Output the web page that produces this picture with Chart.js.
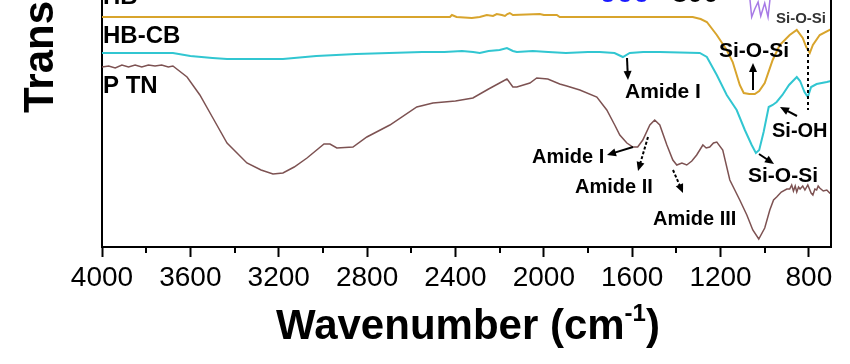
<!DOCTYPE html>
<html>
<head>
<meta charset="utf-8">
<script src="https://cdn.jsdelivr.net/npm/chart.js@4.4.1/dist/chart.umd.min.js"></script>
<style>
  html, body { margin: 0; padding: 0; background: #fff; }
  canvas { display: block; }
</style>
</head>
<body>
<canvas id="ftir-chart" width="850" height="364"></canvas>
<script>
// FTIR spectra (transmittance in arbitrary units, curves offset)
const hbWn = [4000, 3600, 3200, 2800, 2425, 2416, 2395, 2326, 2290, 2258, 2230, 2213, 2190, 2176, 2165, 2154, 2140, 2018, 2000, 1941, 1928, 1326, 1290, 1262, 1217, 1172, 1145, 1113, 1095, 1070, 1045, 1025, 1000, 964, 932, 887, 855, 828, 812, 796, 782, 751, 706, 700];
const hbT  = [230, 230, 230, 230, 230, 232, 230, 229, 230, 232, 231, 233, 232, 231, 233, 234, 232, 233, 232, 232, 230, 230, 228, 225, 212, 197, 185, 162, 154, 153, 153, 156, 164, 187, 202, 212, 217, 209, 200, 194, 202, 212, 217, 218];

const cbWn = [4000, 3800, 3679, 3600, 3500, 3434, 3181, 3030, 2850, 2700, 2550, 2450, 2370, 2320, 2290, 2250, 2200, 2167, 2140, 2122, 2050, 1980, 1900, 1800, 1747, 1680, 1642, 1611, 1550, 1475, 1294, 1262, 1217, 1172, 1127, 1090, 1059, 1040, 1025, 1005, 982, 964, 946, 920, 890, 855, 840, 820, 805, 790, 765, 719, 700];
const cbT  = [194, 194, 194, 191, 189, 188, 188, 191, 193, 194, 195, 195, 196, 195, 194, 196, 197, 199, 196, 195, 196, 195, 194, 195, 195, 194, 190, 194, 195, 195, 194, 190, 172, 152, 137, 117, 102, 94, 97, 115, 140, 142, 145, 152, 162, 170, 166, 155, 150, 160, 163, 165, 166];

const ptnWn = [4000, 3970, 3940, 3910, 3880, 3850, 3820, 3790, 3760, 3730, 3700, 3679, 3615, 3557, 3498, 3434, 3344, 3280, 3226, 3181, 3130, 3072, 2995, 2968, 2937, 2864, 2801, 2697, 2575, 2502, 2400, 2321, 2250, 2167, 2163, 2140, 2122, 2063, 2032, 1982, 1928, 1896, 1837, 1760, 1715, 1679, 1656, 1624, 1597, 1575, 1552, 1520, 1498, 1475, 1443, 1416, 1398, 1375, 1353, 1330, 1308, 1280, 1265, 1249, 1232, 1217, 1190, 1158, 1113, 1081, 1054, 1027, 1000, 977, 960, 946, 925, 900, 887, 878, 870, 862, 855, 847, 840, 828, 818, 805, 790, 782, 773, 765, 758, 751, 735, 719, 706, 700];
const ptnT  = [180, 181, 179, 182, 180, 182, 180, 182, 181, 182, 180, 181, 170, 152, 129, 104, 84, 77, 73, 74, 80, 89, 103, 103, 99, 100, 110, 122, 140, 144, 146, 149, 158, 168, 167, 160, 160, 164, 169, 168, 163, 161, 157, 150, 137, 122, 112, 104, 100, 100, 107, 122, 127, 122, 102, 87, 82, 84, 82, 86, 92, 102, 99, 100, 104, 105, 97, 67, 47, 32, 17, 8, 19, 37, 47, 50, 55, 58, 58, 62, 56, 61, 55, 60, 58, 61, 57, 62, 54, 52, 58, 57, 61, 59, 56, 57, 54, 55];

// piece of the inset spectrum that pokes in at the top
const insetWn = [1068, 1059, 1045, 1030, 1018, 1000, 985, 975];
const insetT  = [250, 230, 238, 245, 231, 244, 230, 250];

const xTicks = [800, 1200, 1600, 2000, 2400, 2800, 3200, 3600, 4000];

const FONT = '"Liberation Sans", Arial, sans-serif';

function pts(wn, t) {
    return wn.map((w, i) => ({ x: w, y: t[i] }));
}

function arrow(ctx, x1, y1, x2, y2, dashed) {
    const ang = Math.atan2(y2 - y1, x2 - x1);
    const head = 9;
    ctx.save();
    ctx.strokeStyle = '#000';
    ctx.fillStyle = '#000';
    ctx.lineWidth = 2;
    if (dashed) ctx.setLineDash([3, 2]);
    ctx.beginPath();
    ctx.moveTo(x1, y1);
    ctx.lineTo(x2 - Math.cos(ang) * head * 0.8, y2 - Math.sin(ang) * head * 0.8);
    ctx.stroke();
    ctx.setLineDash([]);
    ctx.beginPath();
    ctx.moveTo(x2, y2);
    ctx.lineTo(x2 - head * Math.cos(ang) + 4 * Math.sin(ang), y2 - head * Math.sin(ang) - 4 * Math.cos(ang));
    ctx.lineTo(x2 - head * Math.cos(ang) - 4 * Math.sin(ang), y2 - head * Math.sin(ang) + 4 * Math.cos(ang));
    ctx.closePath();
    ctx.fill();
    ctx.restore();
}

const labels = [
    { t: 'HB', x: 103, y: 4, size: 24 },
    { t: 'HB-CB', x: 103, y: 43, size: 24 },
    { t: 'P TN', x: 103, y: 93, size: 24 },
    { t: 'Amide I', x: 625, y: 98, size: 21 },
    { t: 'Si-O-Si', x: 719, y: 57, size: 21 },
    { t: 'Si-O-Si', x: 776, y: 23, size: 15, color: '#333' },
    { t: 'Si-OH', x: 772, y: 137, size: 20 },
    { t: 'Si-O-Si', x: 748, y: 182, size: 21 },
    { t: 'Amide I', x: 532, y: 163, size: 20 },
    { t: 'Amide II', x: 575, y: 193, size: 20 },
    { t: 'Amide III', x: 653, y: 225, size: 20 },
    { t: '900', x: 600, y: 2, size: 30, color: '#1a1aff' },
    { t: '800', x: 672, y: 2, size: 28 },
];

const annotations = {
    id: 'annotations',
    afterDraw(chart) {
        const { ctx, chartArea: a, scales: { x } } = chart;
        ctx.save();

        // right frame line
        ctx.strokeStyle = '#000';
        ctx.lineWidth = 2;
        ctx.beginPath();
        ctx.moveTo(a.right, 0);
        ctx.lineTo(a.right, a.bottom + 1);
        ctx.stroke();

        // minor ticks between labelled ones
        ctx.lineWidth = 2;
        for (let v = 1000; v < 4000; v += 400) {
            const px = Math.round(x.getPixelForValue(v));
            ctx.beginPath();
            ctx.moveTo(px, a.bottom);
            ctx.lineTo(px, a.bottom + 6);
            ctx.stroke();
        }

        // dotted marker line for the 800 band
        ctx.setLineDash([3, 3]);
        ctx.lineWidth = 2;
        ctx.beginPath();
        ctx.moveTo(808, 30);
        ctx.lineTo(808, 110);
        ctx.stroke();
        ctx.setLineDash([]);

        // text labels
        ctx.textBaseline = 'alphabetic';
        ctx.textAlign = 'left';
        labels.forEach((l) => {
            ctx.fillStyle = l.color || '#000';
            ctx.font = `bold ${l.size}px ${FONT}`;
            ctx.fillText(l.t, l.x, l.y);
        });

        // arrows
        arrow(ctx, 627, 58, 628, 80);
        arrow(ctx, 753, 90, 753, 63);
        arrow(ctx, 797, 116, 780, 107);
        arrow(ctx, 759, 154, 774, 164);
        arrow(ctx, 633, 147, 607, 155);
        arrow(ctx, 648, 137, 638, 171, true);
        arrow(ctx, 673, 170, 683, 193, true);

        // axis titles
        ctx.fillStyle = '#000';
        ctx.font = `bold 42px ${FONT}`;
        const main = 'Wavenumber (cm';
        const sup = '-1';
        const close = ')';
        const wMain = ctx.measureText(main).width;
        ctx.font = `bold 24px ${FONT}`;
        const wSup = ctx.measureText(sup).width;
        ctx.font = `bold 42px ${FONT}`;
        const wClose = ctx.measureText(close).width;
        let tx = 468 - (wMain + wSup + wClose) / 2;
        const ty = 339;
        ctx.fillText(main, tx, ty);
        tx += wMain;
        ctx.font = `bold 24px ${FONT}`;
        ctx.fillText(sup, tx, ty - 18);
        tx += wSup;
        ctx.font = `bold 42px ${FONT}`;
        ctx.fillText(close, tx, ty);

        ctx.translate(53, 113);
        ctx.rotate(-Math.PI / 2);
        ctx.font = `bold 42px ${FONT}`;
        ctx.fillText('Transmittance (a.u.)', 0, 0);

        ctx.restore();
    }
};

new Chart(document.getElementById('ftir-chart'), {
    type: 'line',
    data: {
        datasets: [
            { label: 'HB', data: pts(hbWn, hbT), borderColor: '#d8a42c', borderWidth: 2 },
            { label: 'HB-CB', data: pts(cbWn, cbT), borderColor: '#31c6d1', borderWidth: 2 },
            { label: 'PTN', data: pts(ptnWn, ptnT), borderColor: '#7d5252', borderWidth: 1.5 },
            { label: 'inset', data: pts(insetWn, insetT), borderColor: '#a77ae6', borderWidth: 1.5 },
        ],
    },
    options: {
        animation: false,
        responsive: false,
        elements: {
            point: { radius: 0 },
            line: { tension: 0, fill: false },
        },
        layout: {
            autoPadding: false,
            padding: { left: 102, right: 19, top: 0, bottom: 0 },
        },
        plugins: {
            legend: { display: false },
            tooltip: { enabled: false },
        },
        scales: {
            x: {
                type: 'linear',
                reverse: true,
                min: 700,
                max: 4000,
                border: { display: true, color: '#000', width: 2 },
                grid: {
                    display: true,
                    drawOnChartArea: false,
                    drawTicks: true,
                    tickLength: 10,
                    tickWidth: 2,
                    tickColor: '#000',
                },
                afterBuildTicks: (scale) => {
                    scale.ticks = xTicks.map((v) => ({ value: v }));
                },
                ticks: {
                    color: '#000',
                    font: { family: FONT, size: 28 },
                    padding: 4,
                    maxRotation: 0,
                    autoSkip: false,
                    callback: (v) => String(v),
                },
                afterFit: (scale) => { scale.height = 117; },
            },
            y: {
                min: 0,
                max: 247,
                border: { display: true, color: '#000', width: 2 },
                grid: { display: true, drawOnChartArea: false, drawTicks: false },
                ticks: { display: false },
                afterFit: (scale) => { scale.width = 0; },
            },
        },
    },
    plugins: [annotations],
});
</script>
</body>
</html>
